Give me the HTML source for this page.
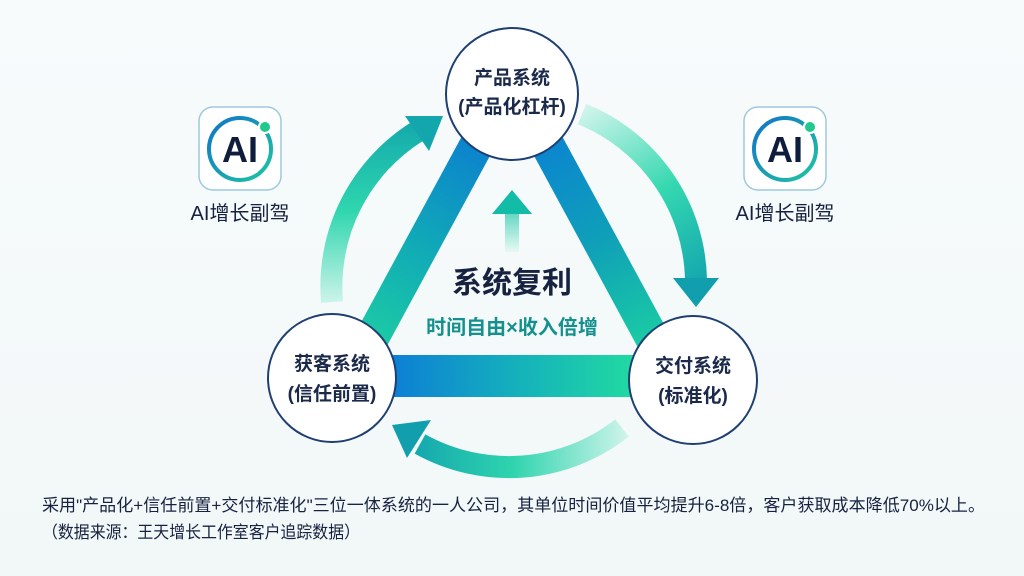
<!DOCTYPE html>
<html><head><meta charset="utf-8"><style>
html,body{margin:0;padding:0;background:#f6fafb}
svg{display:block}
text{font-family:"Liberation Sans","Noto Sans CJK SC",sans-serif}
</style></head><body>
<svg width="1024" height="576" viewBox="0 0 1024 576" xmlns="http://www.w3.org/2000/svg">
<defs>
<linearGradient id="bg" x1="0" y1="0" x2="0" y2="1"><stop offset="0" stop-color="#f7fbfc"/><stop offset="1" stop-color="#f2f7f8"/></linearGradient>
<linearGradient id="lb" x1="490" y1="125" x2="360" y2="360" gradientUnits="userSpaceOnUse"><stop offset="0" stop-color="#0b7bd2"/><stop offset="0.5" stop-color="#10a8b8"/><stop offset="1" stop-color="#1ed2a0"/></linearGradient>
<linearGradient id="rb" x1="534" y1="125" x2="664" y2="360" gradientUnits="userSpaceOnUse"><stop offset="0" stop-color="#0b80d4"/><stop offset="0.5" stop-color="#0fa0b8"/><stop offset="1" stop-color="#1dd4a0"/></linearGradient>
<linearGradient id="bb" x1="390" y1="0" x2="640" y2="0" gradientUnits="userSpaceOnUse"><stop offset="0" stop-color="#0d7ed6"/><stop offset="0.5" stop-color="#14b0bc"/><stop offset="1" stop-color="#22dca0"/></linearGradient>
<linearGradient id="la" x1="0" y1="300" x2="0" y2="120" gradientUnits="userSpaceOnUse"><stop offset="0" stop-color="#c8f3e8"/><stop offset="0.5" stop-color="#2ed6ae"/><stop offset="1" stop-color="#13a8ac"/></linearGradient>
<linearGradient id="ra" x1="580" y1="110" x2="700" y2="300" gradientUnits="userSpaceOnUse"><stop offset="0" stop-color="#d2f5ec"/><stop offset="0.5" stop-color="#34d8b0"/><stop offset="1" stop-color="#0f9fae"/></linearGradient>
<linearGradient id="ba" x1="630" y1="0" x2="395" y2="0" gradientUnits="userSpaceOnUse"><stop offset="0" stop-color="#d2f5ec"/><stop offset="0.5" stop-color="#2fd4ae"/><stop offset="1" stop-color="#0f9fae"/></linearGradient>
<linearGradient id="ua" x1="0" y1="250" x2="0" y2="190" gradientUnits="userSpaceOnUse"><stop offset="0" stop-color="#e2f8f1"/><stop offset="1" stop-color="#12c2a6"/></linearGradient>
<linearGradient id="ring" x1="0" y1="0" x2="1" y2="1"><stop offset="0" stop-color="#1173c8"/><stop offset="1" stop-color="#1fc6a2"/></linearGradient>
</defs>
<rect width="1024" height="576" fill="url(#bg)"/>

<!-- arcs -->
<path d="M 332 302 A 183 183 0 0 1 418 131" fill="none" stroke="url(#la)" stroke-width="22"/>
<polygon points="405,116 429,151 443,116" fill="#13a6ac"/>
<path d="M 582 114 A 183 183 0 0 1 696 280" fill="none" stroke="url(#ra)" stroke-width="22"/>
<polygon points="673,278 719,278 696,307" fill="#119fae"/>
<path d="M 622 428 A 183 183 0 0 1 420 444" fill="none" stroke="url(#ba)" stroke-width="22"/>
<polygon points="392,425 431,420 407,458" fill="#119fae"/>

<!-- triangle bars -->
<line x1="490" y1="120" x2="360" y2="360" stroke="url(#lb)" stroke-width="34"/>
<line x1="534" y1="120" x2="664" y2="360" stroke="url(#rb)" stroke-width="34"/>
<rect x="380" y="355" width="270" height="42" fill="url(#bb)"/>

<!-- up arrow -->
<rect x="505" y="212" width="14" height="40" fill="url(#ua)"/>
<polygon points="492,214 532,214 512,190" fill="#12bca6"/>

<!-- circles -->
<circle cx="512" cy="94" r="66" fill="#fff" stroke="#1f3f72" stroke-width="2"/>
<text x="512" y="84" text-anchor="middle" font-size="19" font-weight="bold" fill="#1b2a4a">产品系统</text>
<text x="512" y="113" text-anchor="middle" font-size="19" font-weight="bold" fill="#1b2a4a">(产品化杠杆)</text>
<circle cx="332" cy="378" r="64" fill="#fff" stroke="#1f3f72" stroke-width="2"/>
<text x="332" y="370" text-anchor="middle" font-size="19" font-weight="bold" fill="#1b2a4a">获客系统</text>
<text x="332" y="400" text-anchor="middle" font-size="19" font-weight="bold" fill="#1b2a4a">(信任前置)</text>
<circle cx="693" cy="380" r="64" fill="#fff" stroke="#1f3f72" stroke-width="2"/>
<text x="693" y="372" text-anchor="middle" font-size="19" font-weight="bold" fill="#1b2a4a">交付系统</text>
<text x="693" y="402" text-anchor="middle" font-size="19" font-weight="bold" fill="#1b2a4a">(标准化)</text>

<!-- center text -->
<text x="512" y="293" text-anchor="middle" font-size="30" font-weight="bold" fill="#16223f">系统复利</text>
<text x="512" y="334" text-anchor="middle" font-size="20" font-weight="bold" fill="#14908e">时间自由×收入倍增</text>

<!-- AI icons -->
<g transform="translate(199,107)">
<rect x="0" y="0" width="82" height="83" rx="14" fill="#fff" stroke="#9cc9dd" stroke-width="1.5"/>
<circle cx="41" cy="42" r="31" fill="none" stroke="url(#ring)" stroke-width="4"/>
<circle cx="66" cy="20" r="6" fill="#21c98e" stroke="#fff" stroke-width="2"/>
<text x="41" y="55" text-anchor="middle" font-size="36" font-weight="bold" fill="#0f1d3d">AI</text>
</g>
<text x="240" y="220" text-anchor="middle" font-size="20" fill="#16223f">AI增长副驾</text>
<g transform="translate(744,107)">
<rect x="0" y="0" width="82" height="83" rx="14" fill="#fff" stroke="#9cc9dd" stroke-width="1.5"/>
<circle cx="41" cy="42" r="31" fill="none" stroke="url(#ring)" stroke-width="4"/>
<circle cx="66" cy="20" r="6" fill="#21c98e" stroke="#fff" stroke-width="2"/>
<text x="41" y="55" text-anchor="middle" font-size="36" font-weight="bold" fill="#0f1d3d">AI</text>
</g>
<text x="785" y="220" text-anchor="middle" font-size="20" fill="#16223f">AI增长副驾</text>

<!-- footer -->
<text x="42" y="511" font-size="17" fill="#16223f" textLength="943" lengthAdjust="spacingAndGlyphs">采用"产品化+信任前置+交付标准化"三位一体系统的一人公司，其单位时间价值平均提升6-8倍，客户获取成本降低70%以上。</text>
<text x="42" y="538" font-size="17" fill="#16223f" textLength="318" lengthAdjust="spacingAndGlyphs">（数据来源：王天增长工作室客户追踪数据）</text>
</svg>
</body></html>
